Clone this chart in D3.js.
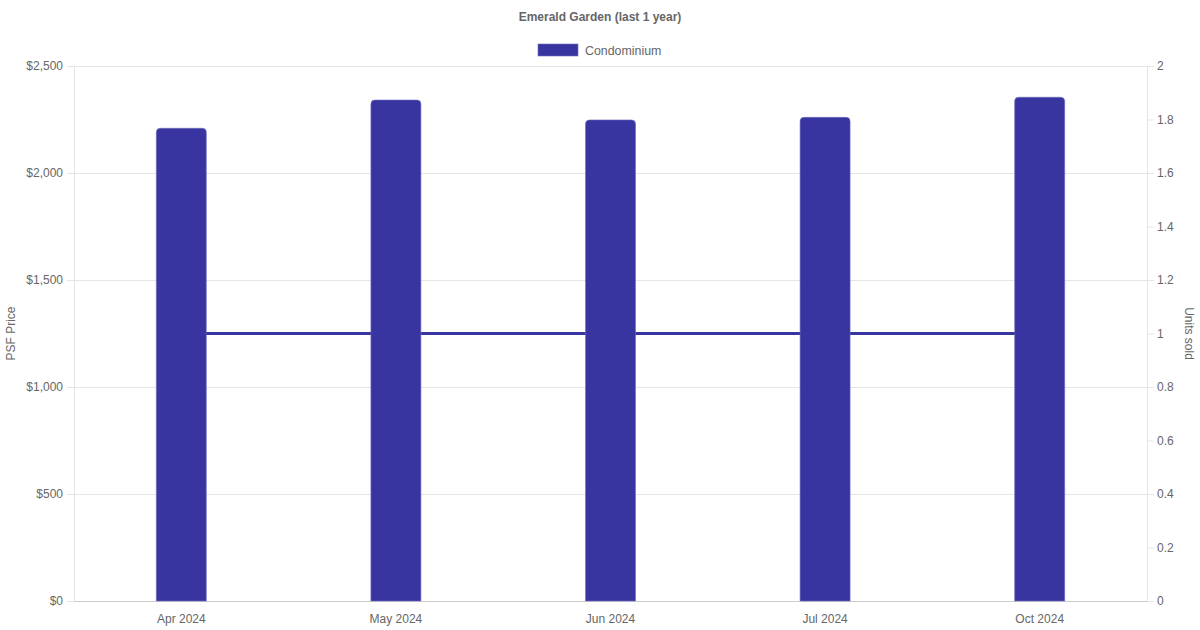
<!DOCTYPE html>
<html>
<head>
<meta charset="utf-8">
<script src="https://cdn.jsdelivr.net/npm/d3@7"></script>
<style>
  body { margin: 0; background: #fff; }
  svg { font-family: "Liberation Sans", Arial, sans-serif; }
</style>
</head>
<body>
<div class="chart"></div>
<script>
// Data
var months = ["Apr 2024", "May 2024", "Jun 2024", "Jul 2024", "Oct 2024"];
var psfPrice = [2209, 2341, 2248, 2260, 2354];
var unitsSold = [1, 1, 1, 1, 1];
var priceTicks = [0, 500, 1000, 1500, 2000, 2500];
var unitTicks = [0, 0.2, 0.4, 0.6, 0.8, 1, 1.2, 1.4, 1.6, 1.8, 2];

var width = 1200, height = 630;
var margin = { top: 66, right: 53, bottom: 29, left: 74 };
var barColor = "#3935a0";
var textColor = "#666";
var gridColor = "#e5e5e5";

var svg = d3.select(".chart")
  .append("svg")
    .attr("width", width)
    .attr("height", height);

var innerW = width - margin.left - margin.right;
var innerH = height - margin.top - margin.bottom;

var g = svg.append("g")
  .attr("transform", `translate(${margin.left}, ${margin.top})`);

// Scales
var x = d3.scaleBand().domain(months).range([0, innerW]);
var yLeft = d3.scaleLinear().domain([0, 2500]).range([innerH, 0]);
var yRight = d3.scaleLinear().domain([0, 2]).range([innerH, 0]);

// Grid lines
g.append("g")
  .selectAll("line")
  .data(priceTicks)
  .join("line")
    .attr("x1", 0)
    .attr("x2", innerW)
    .attr("y1", d => yLeft(d) + 0.5)
    .attr("y2", d => yLeft(d) + 0.5)
    .attr("stroke", gridColor);

// Left axis
var leftAxis = g.append("g")
  .call(d3.axisLeft(yLeft).tickValues(priceTicks).tickSize(7).tickPadding(4)
    .tickFormat(d => "$" + d3.format(",")(d)));
leftAxis.select(".domain").attr("stroke", gridColor).attr("d", `M0.5,0V${innerH}`);
leftAxis.selectAll(".tick line").attr("stroke", gridColor);
leftAxis.selectAll("text").attr("fill", textColor).style("font-size", "12px");

// Right axis
var rightAxis = g.append("g")
  .attr("transform", `translate(${innerW}, 0)`)
  .call(d3.axisRight(yRight).tickValues(unitTicks).tickSize(7).tickPadding(3)
    .tickFormat(d3.format("")));
rightAxis.select(".domain").attr("stroke", gridColor).attr("d", `M0.5,0V${innerH}`);
rightAxis.selectAll(".tick line").attr("stroke", gridColor);
rightAxis.selectAll("text").attr("fill", textColor).style("font-size", "12px");

// Bottom axis
var bottomAxis = g.append("g")
  .attr("transform", `translate(0, ${innerH})`)
  .call(d3.axisBottom(x).tickSize(0).tickPadding(13));
bottomAxis.select(".domain").attr("stroke", "#ccc");
bottomAxis.selectAll("text").attr("fill", textColor).style("font-size", "12px");

// Units sold line (drawn under the bars)
var line = d3.line()
  .x((d, i) => x(months[i]) + x.bandwidth() / 2)
  .y(d => yRight(d));

g.append("path")
  .datum(unitsSold)
  .attr("fill", "none")
  .attr("stroke", barColor)
  .attr("stroke-width", 3)
  .attr("d", line);

// Bars with rounded tops
var barW = 50;
var r = 4;
g.append("g")
  .selectAll("path")
  .data(psfPrice)
  .join("path")
    .attr("fill", barColor)
    .attr("stroke", "#6f6cc0")
    .attr("stroke-width", 0.6)
    .attr("d", (d, i) => {
      var x0 = x(months[i]) + x.bandwidth() / 2 - barW / 2;
      var x1 = x0 + barW;
      var y0 = yLeft(d);
      var yb = innerH;
      return `M${x0},${yb}V${y0 + r}Q${x0},${y0} ${x0 + r},${y0}H${x1 - r}Q${x1},${y0} ${x1},${y0 + r}V${yb}Z`;
    });

// Axis titles
svg.append("text")
  .attr("transform", `translate(15, ${margin.top + innerH / 2}) rotate(-90)`)
  .attr("text-anchor", "middle")
  .attr("fill", textColor)
  .style("font-size", "12px")
  .text("PSF Price");

svg.append("text")
  .attr("transform", `translate(${width - 15}, ${margin.top + innerH / 2}) rotate(90)`)
  .attr("text-anchor", "middle")
  .attr("fill", textColor)
  .style("font-size", "12px")
  .text("Units sold");

// Title
svg.append("text")
  .attr("x", width / 2)
  .attr("y", 21)
  .attr("text-anchor", "middle")
  .attr("fill", textColor)
  .style("font-size", "12px")
  .style("font-weight", "bold")
  .text("Emerald Garden (last 1 year)");

// Legend
var legend = svg.append("g").attr("transform", "translate(538, 44)");
legend.append("rect")
  .attr("width", 40)
  .attr("height", 12)
  .attr("fill", barColor)
  .attr("stroke", "#6f6cc0")
  .attr("stroke-width", 0.6);
legend.append("text")
  .attr("x", 47)
  .attr("y", 10.5)
  .attr("fill", textColor)
  .style("font-size", "12.4px")
  .text("Condominium");
</script>
</body>
</html>
